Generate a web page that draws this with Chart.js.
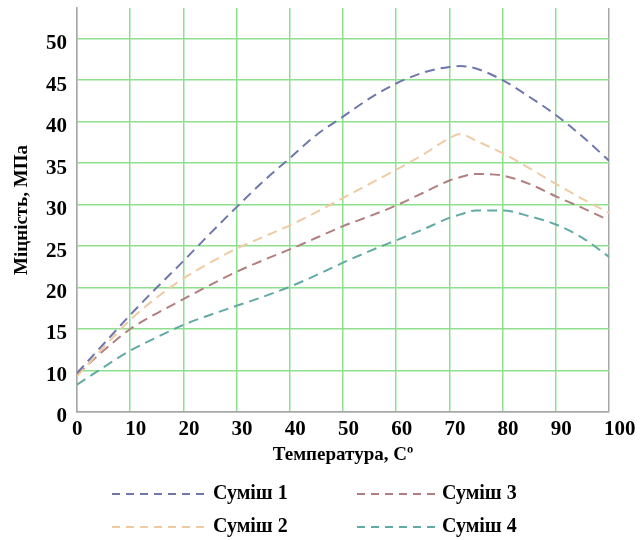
<!DOCTYPE html>
<html>
<head>
<meta charset="utf-8">
<script src="https://cdn.jsdelivr.net/npm/chart.js@4"></script>
<style>
    html, body { margin: 0; padding: 0; background: #fff; }
    #wrap { width: 640px; height: 540px; }
</style>
</head>
<body>
<div id="wrap"><canvas id="chart"></canvas></div>
<script>
// Data
const temps = [0, 5, 10, 15, 20, 25, 30, 35, 40, 45, 50, 55, 60, 65, 70, 72, 75, 80, 85, 90, 95, 100];
const mix1 = [9.7, 13.2, 16.7, 20.0, 23.2, 26.5, 29.7, 32.8, 35.6, 38.4, 40.6, 42.8, 44.6, 45.9, 46.6, 46.7, 46.4, 45.0, 43.0, 40.8, 38.2, 35.3];
const mix2 = [9.3, 12.8, 16.1, 18.8, 21.1, 23.0, 24.7, 26.1, 27.5, 29.1, 30.8, 32.5, 34.2, 36.0, 38.0, 38.5, 37.7, 36.2, 34.4, 32.5, 30.7, 29.0];
const mix3 = [9.5, 12.4, 15.0, 16.9, 18.6, 20.3, 21.9, 23.3, 24.6, 26.0, 27.4, 28.6, 29.9, 31.4, 32.9, 33.3, 33.7, 33.5, 32.5, 31.0, 29.6, 28.1];
const mix4 = [8.3, 10.4, 12.4, 14.0, 15.5, 16.7, 17.8, 18.9, 20.1, 21.5, 23.0, 24.4, 25.7, 27.0, 28.4, 28.8, 29.3, 29.3, 28.6, 27.6, 26.0, 23.7];

// Axis ticks: the bottom gridline is labelled "0" on the original
const xTicks = [0, 10, 20, 30, 40, 50, 60, 70, 80, 90, 100];
const yTicks = [5, 10, 15, 20, 25, 30, 35, 40, 45, 50];
const yTickLabels = ['0', '10', '15', '20', '25', '30', '35', '40', '45', '50'];

const FONT = "'Liberation Serif', 'Times New Roman', serif";
const GRID = '#8fdf8f';
const AXIS = '#a8a8a8';

Chart.defaults.font.family = FONT;
Chart.defaults.font.weight = 'bold';
Chart.defaults.color = '#000';

function series(label, values, color) {
    return {
        label,
        data: temps.map((t, i) => ({ x: t, y: values[i] })),
        borderColor: color,
        backgroundColor: color,
        borderWidth: 2,
        borderDash: [10, 6],
        pointRadius: 0,
        cubicInterpolationMode: 'monotone',
        fill: false
    };
}

const datasets = [
    series('Суміш 1', mix1, '#6f77ad'),
    series('Суміш 2', mix2, '#efcba4'),
    series('Суміш 3', mix3, '#b27f80'),
    series('Суміш 4', mix4, '#62aaa3')
];

// Two-column legend under the axis title (1 & 3 on top, 2 & 4 below)
const legendSlots = [
    { lineX: 112, lineW: 92, textX: 213, y: 494 },
    { lineX: 112, lineW: 92, textX: 213, y: 527 },
    { lineX: 357, lineW: 84, textX: 442, y: 494 },
    { lineX: 357, lineW: 84, textX: 442, y: 527 }
];

const gridLegend = {
    id: 'gridLegend',
    afterDraw(chart) {
        const ctx = chart.ctx;
        ctx.save();
        ctx.font = `bold 20px ${FONT}`;
        ctx.textBaseline = 'middle';
        ctx.fillStyle = '#000';
        chart.data.datasets.forEach((ds, i) => {
            const s = legendSlots[i];
            ctx.strokeStyle = ds.borderColor;
            ctx.lineWidth = 2;
            ctx.setLineDash([8, 6]);
            ctx.beginPath();
            ctx.moveTo(s.lineX, s.y);
            ctx.lineTo(s.lineX + s.lineW, s.y);
            ctx.stroke();
            ctx.fillText(ds.label, s.textX, s.y);
        });
        ctx.restore();
    }
};

new Chart(document.getElementById('chart'), {
    type: 'line',
    data: { datasets },
    plugins: [gridLegend],
    options: {
        responsive: true,
        maintainAspectRatio: false,
        animation: false,
        layout: { padding: { top: 8, right: 31, left: 0, bottom: 66 } },
        plugins: {
            tooltip: { enabled: false },
            legend: { display: false }
        },
        scales: {
            x: {
                type: 'linear',
                min: 0,
                max: 100,
                afterBuildTicks: (scale) => { scale.ticks = xTicks.map(v => ({ value: v })); },
                afterFit: (scale) => {
                    scale.height = 62;
                    scale.paddingLeft = 0;
                    scale.paddingRight = 0;
                },
                grid: {
                    color: (ctx) => (ctx.tick && ctx.tick.value === 100 ? AXIS : GRID),
                    lineWidth: 1.5,
                    drawTicks: false
                },
                border: { color: AXIS, width: 1.5 },
                ticks: {
                    padding: 5,
                    align: 'start',
                    labelOffset: -5,
                    color: '#000',
                    font: { family: FONT, size: 21, weight: 'bold' }
                },
                title: {
                    display: true,
                    text: 'Температура, Сº',
                    color: '#000',
                    padding: { top: 2, bottom: 8 },
                    font: { family: FONT, size: 19, weight: 'bold' }
                }
            },
            y: {
                type: 'linear',
                min: 5,
                max: 53.7,
                afterBuildTicks: (scale) => { scale.ticks = yTicks.map(v => ({ value: v })); },
                afterFit: (scale) => {
                    scale.width = 77;
                    scale.paddingTop = 0;
                    scale.paddingBottom = 0;
                },
                grid: {
                    color: (ctx) => (ctx.tick && ctx.tick.value === 5 ? AXIS : GRID),
                    lineWidth: 1.5,
                    drawTicks: false
                },
                border: { color: AXIS, width: 1.5 },
                ticks: {
                    padding: 10,
                    labelOffset: 5,
                    color: '#000',
                    font: { family: FONT, size: 21, weight: 'bold' },
                    callback: (value, index) => yTickLabels[index]
                },
                title: {
                    display: true,
                    text: 'Міцність, МПа',
                    color: '#000',
                    padding: { top: 11, bottom: 0 },
                    font: { family: FONT, size: 19, weight: 'bold' }
                }
            }
        }
    }
});
</script>
</body>
</html>
